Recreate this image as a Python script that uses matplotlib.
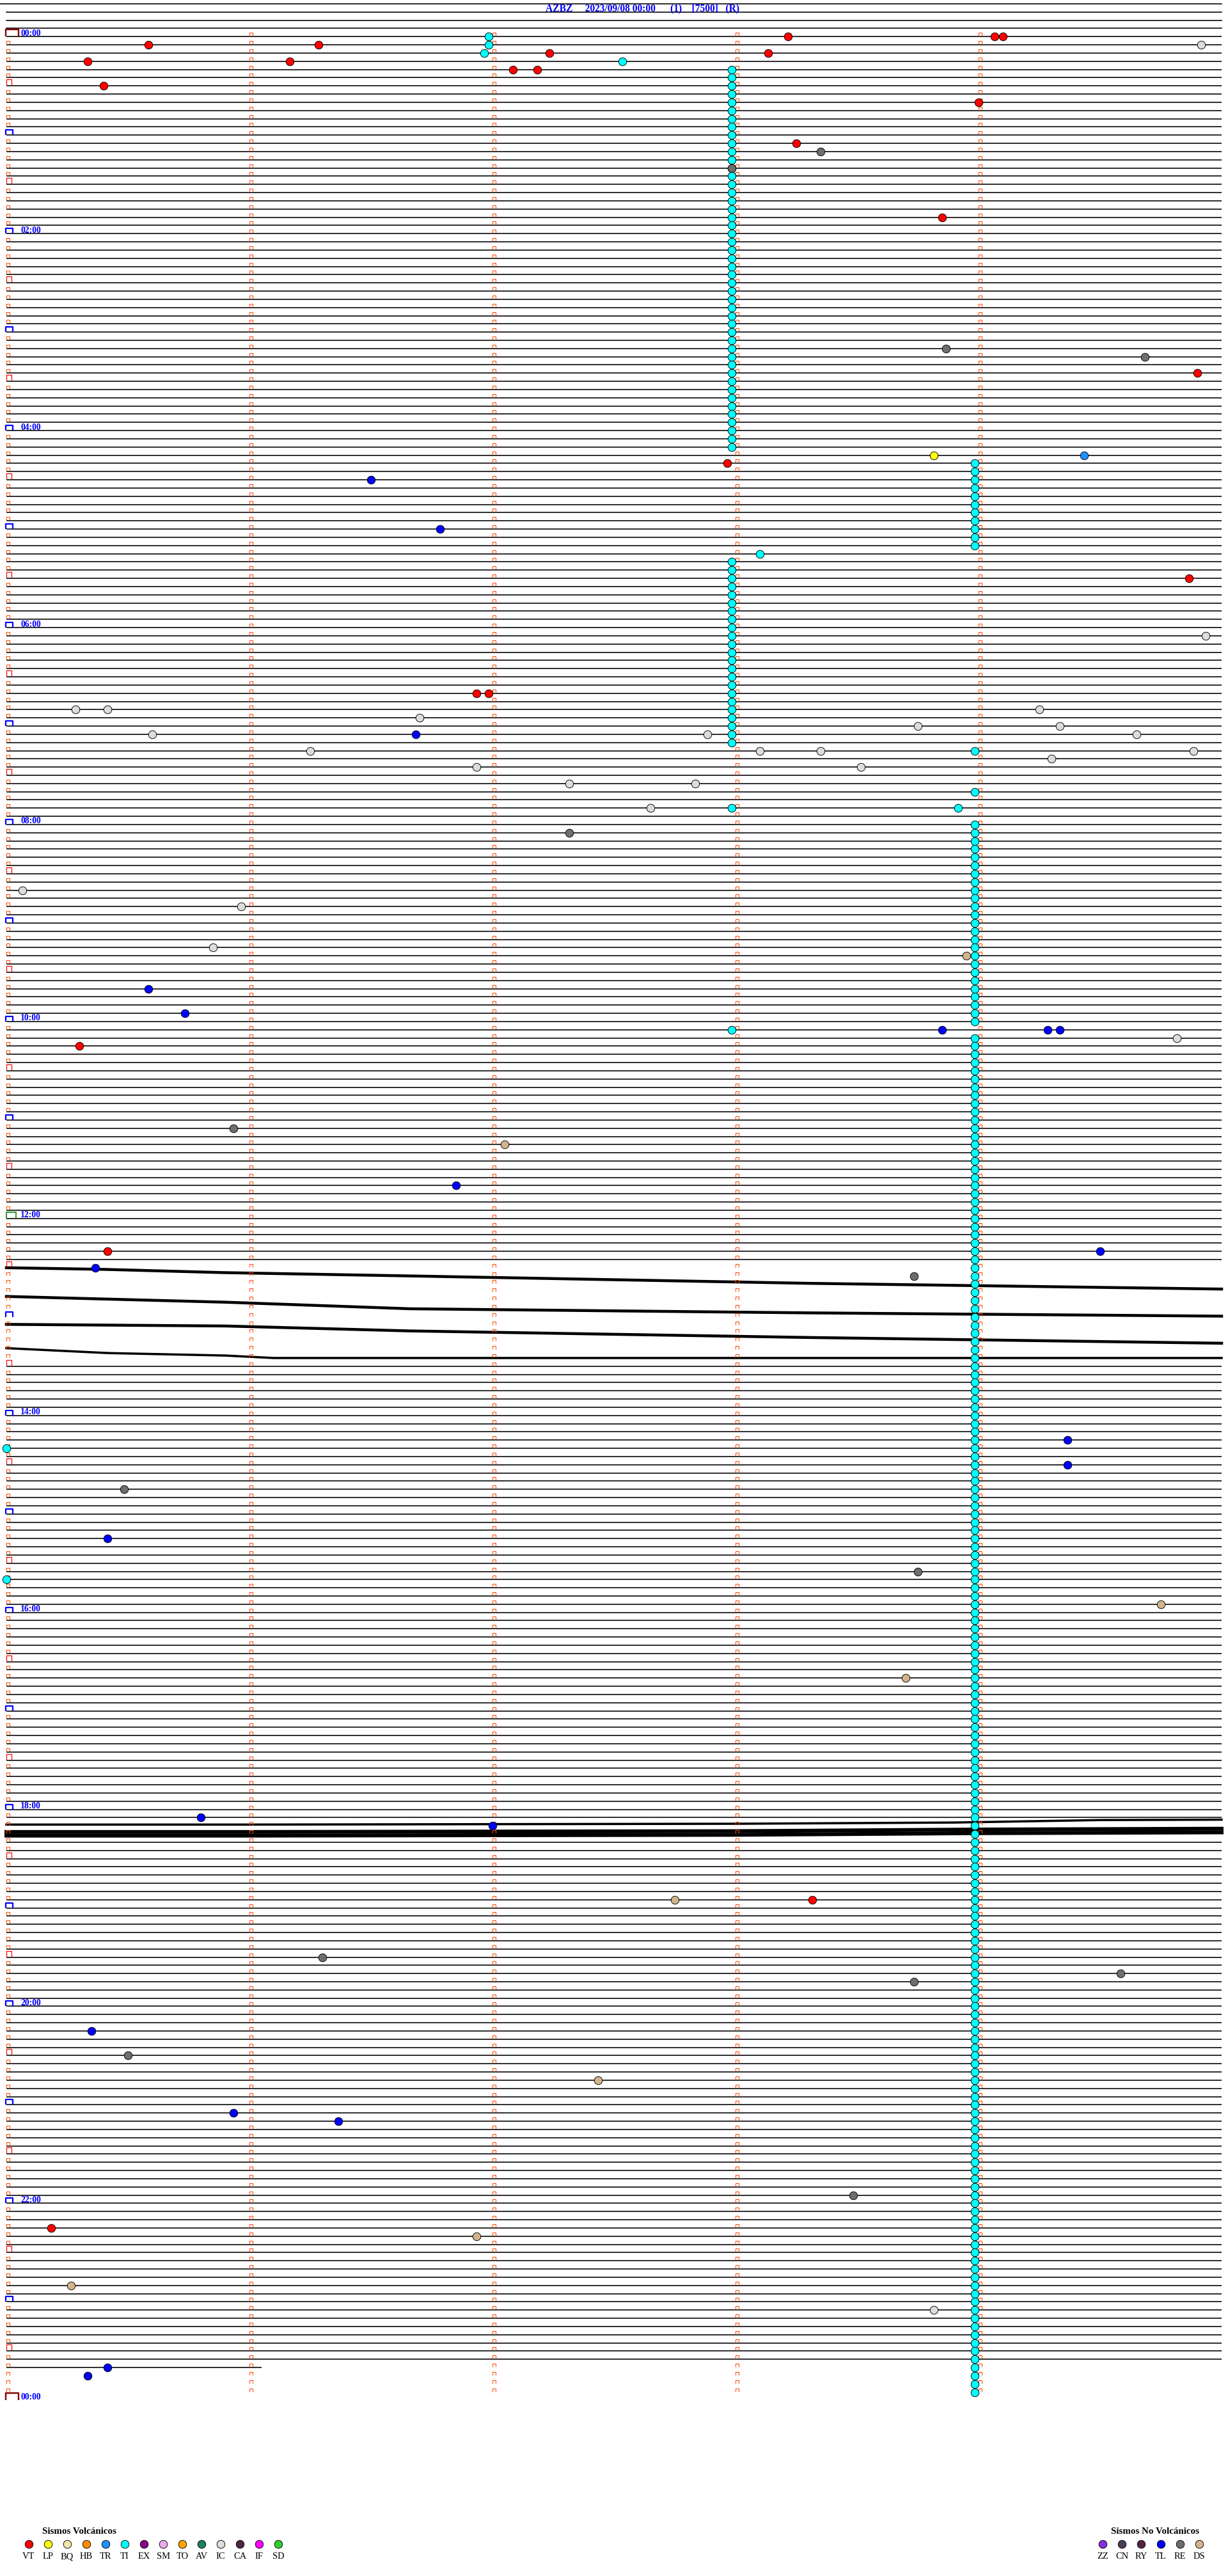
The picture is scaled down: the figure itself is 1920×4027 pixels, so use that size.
import matplotlib
matplotlib.use("Agg")
import matplotlib.pyplot as plt
from matplotlib.path import Path

# ---------------- data ----------------
STATION_TITLE = "AZBZ     2023/09/08 00:00      (1)    [7500]   (R)"
HOUR_LABELS = ["00:00", "02:00", "04:00", "06:00", "08:00", "10:00", "12:00",
               "14:00", "16:00", "18:00", "20:00", "22:00", "00:00"]
TRACE_END = "23:41:03"

VT_TIMES = ["00:03:13", "00:04:04", "00:04:06", "00:05:35", "00:06:17", "00:12:14",
            "00:13:08", "00:15:20", "00:16:10", "00:22:05", "00:22:11", "00:30:24",
            "00:44:00", "01:08:15", "01:53:51", "03:29:54", "04:22:58", "05:34:52",
            "06:41:56", "06:41:59", "10:15:18", "12:20:25", "18:58:19", "22:15:11"]
LP_TIMES = ["04:18:49"]
TR_TIMES = ["04:19:26"]
TI_TIMES = ["00:01:59", "00:06:59", "00:11:58", "00:17:32", "05:18:06", "07:18:59",
            "07:43:59", "07:52:59", "07:53:55", "10:07:59", "14:20:00", "15:40:00"]
# tremor episodes: one TI event per 5-min row, (first row, last row, second of row)
TI_RUN_START = ["00:20", "04:20", "05:20", "08:00", "10:10"]
TI_RUN_END = ["04:10", "05:10", "07:10", "10:00", "23:55"]
TI_RUN_SEC = [179, 239, 179, 239, 239]
IC_TIMES = ["00:09:55", "06:09:56", "06:50:17", "06:50:25", "06:54:15", "06:56:42",
            "07:03:45", "07:04:20", "07:05:36", "07:07:53", "07:09:39", "07:16:15",
            "07:18:06", "07:18:21", "07:19:53", "07:24:18", "07:26:56", "07:28:31",
            "07:37:19", "07:37:50", "07:52:39", "08:40:04", "08:50:58", "09:15:51",
            "10:14:49", "23:08:49"]
TL_TIMES = ["04:31:30", "05:01:47", "07:06:41", "09:40:35", "09:55:44", "10:08:51",
            "10:09:17", "10:09:20", "11:41:51", "12:24:30", "12:30:22", "14:19:22",
            "14:34:22", "15:15:25", "18:05:48", "18:12:00", "20:15:21", "21:05:56",
            "21:11:22", "23:40:25", "23:45:20"]
RE_TIMES = ["01:13:21", "01:22:59", "03:13:52", "03:19:41", "08:07:19", "11:05:56",
            "12:38:44", "14:45:29", "15:38:45", "19:31:18", "19:44:35", "19:48:44",
            "20:30:30", "21:58:29"]
DS_TIMES = ["09:23:57", "11:17:03", "15:59:45", "16:43:42", "18:57:45", "20:47:26",
            "22:21:56", "22:50:16"]

# disturbed traces (minute in row, row position)
NOISY_ROWS = [150, 153, 157, 161]
NOISY_MIN = [[0, 0.4, 0.9, 1.66, 3.3, 5.0],
             [0, 0.9, 1.66, 3.3, 5.0],
             [0, 0.9, 1.66, 3.3, 5.0],
             [0, 0.42, 0.9, 1.1, 5.0]]
NOISY_POS = [[150.0, 150.2, 150.6, 151.0, 151.9, 152.6],
             [153.5, 154.2, 155.0, 155.5, 155.9],
             [156.9, 157.1, 157.7, 158.5, 159.2],
             [159.8, 160.4, 160.7, 161.0, 161.0]]
NOISY_LW_PX = [4.5, 4.5, 4.5, 3.5]
BAND_ROWS = [218, 219, 219]
BAND_MIN = [[0, 1.0, 2.0, 3.0, 3.9, 4.5, 5.0],
            [0, 1.0, 2.0, 3.0, 4.0, 5.0],
            [0, 1.0, 2.0, 3.0, 4.0, 5.0]]
BAND_POS = [[217.85, 217.85, 217.8, 217.75, 217.6, 217.3, 217.25],
            [218.75, 218.75, 218.7, 218.65, 218.45, 218.35],
            [219.2, 219.2, 219.15, 219.1, 218.9, 218.8]]
BAND_LW_PX = [3.5, 6, 6]
MISSING_ROWS = list(range(150, 162)) + [218, 219]

VOLC_CODES = ["VT", "LP", "BQ", "HB", "TR", "TI", "EX", "SM", "TO", "AV", "IC", "CA", "IF", "SD"]
VOLC_COLORS = ["#FF0000", "#FFFF00", "#EEE8AA", "#FF8C00", "#1E90FF", "#00FFFF", "#8B008B",
               "#EEAAEE", "#FFA500", "#1F7F5F", "#DCDCDC", "#4A2A48", "#FF00FF", "#32CD32"]
NOVOLC_CODES = ["ZZ", "CN", "RY", "TL", "RE", "DS"]
NOVOLC_COLORS = ["#8A2BE2", "#4B3A5A", "#552244", "#0000FF", "#6E6E6E", "#D2B48C"]

# ---------------- layout ----------------
W, H, DPI = 1920, 4027, 100
PT = 72.0 / DPI
X0_PX, MIN_PX = 10.0, 380.0
Y0_PX, ROW_PX = 57.3, 12.83
ROW_SEC = 300
N_ROWS = 288
SERIF = ["Liberation Serif", "DejaVu Serif"]

fig = plt.figure(figsize=(W / DPI, H / DPI), dpi=DPI)
ax = fig.add_axes([0, 0, 1, 1])
ax.set_xlim(-X0_PX / MIN_PX, (W - X0_PX) / MIN_PX)
ax.set_ylim((H - Y0_PX) / ROW_PX, -Y0_PX / ROW_PX)
ax.axis("off")


def px_x(p):
    return (p - X0_PX) / MIN_PX


def px_y(p):
    return (p - Y0_PX) / ROW_PX


def to_sec(t):
    parts = [int(v) for v in t.split(":")]
    while len(parts) < 3:
        parts.append(0)
    return parts[0] * 3600 + parts[1] * 60 + parts[2]


def to_xy(t):
    s = to_sec(t)
    return (s % ROW_SEC) / 60.0, s // ROW_SEC


def bracket(w, h):
    return Path([(0, 0), (0, h), (w, h), (w, 0)],
                [Path.MOVETO, Path.LINETO, Path.LINETO, Path.LINETO])


def draw_bracket(x, y, w, h, color, lw):
    ax.plot([x], [y], marker=bracket(w, h), markersize=2 * max(w, h) * PT,
            mfc="none", mec=color, mew=lw * PT, linestyle="none", zorder=4)


LW = 1.6 * PT
# extra lines above day start
for r in range(-4, 0):
    ax.plot([px_x(0) if r == -4 else 0, 5], [r, r], color="black", lw=LW, zorder=1)

end_x, end_row = to_xy(TRACE_END)
for r in range(0, end_row + 1):
    if r in MISSING_ROWS:
        continue
    xe = 5 if r < end_row else end_x
    ax.plot([0, xe], [r, r], color="black", lw=LW, zorder=1, solid_capstyle="butt")

for rr, xs, ys, lwp in zip(NOISY_ROWS, NOISY_MIN, NOISY_POS, NOISY_LW_PX):
    ax.plot(xs, ys, color="black", lw=lwp * PT, zorder=1, solid_joinstyle="round")
for rr, xs, ys, lwp in zip(BAND_ROWS, BAND_MIN, BAND_POS, BAND_LW_PX):
    ax.plot(xs, ys, color="black", lw=lwp * PT, zorder=1)

# minute marks
lift = 1.0 / ROW_PX
for r in range(0, N_ROWS):
    for m in range(5):
        if m == 0 and r % 6 == 0:
            continue
        draw_bracket(m, r - lift, 5, 5, "#FF4500", 1.0)
for r in range(0, N_ROWS + 1, 6):
    hour = r // 12
    if r % 12 == 6:
        draw_bracket(0, r - lift, 8, 9, "#FF0000", 1.2)
    elif hour % 24 == 0:
        draw_bracket(px_x(9.3), r, 20, 11, "#800000", 2.4)
    elif hour == 12:
        draw_bracket(0, r, 15, 10, "#008000", 1.6)
    else:
        draw_bracket(px_x(9.3), r, 11, 8, "#0000FF", 2.2)
    if r % 24 == 0:
        ax.text(px_x(32), r - 0.12, HOUR_LABELS[r // 24], color="#0000FF", fontsize=13.6 * PT,
                fontweight="bold", family=SERIF, ha="left", va="baseline", zorder=5)

ax.text(px_x(1004), px_y(13), STATION_TITLE, color="#0000FF", fontsize=15.5 * PT,
        fontweight="bold", family=SERIF, ha="center", va="center", zorder=5)

# events
MS = 12.5 * PT
EDGE = 0.9 * PT


def plot_events(times, color, z=6):
    if not times:
        return
    pts = [to_xy(t) for t in times]
    ax.plot([p[0] for p in pts], [p[1] for p in pts], "o", ms=MS, mfc=color, mec="black",
            mew=EDGE, linestyle="none", zorder=z)


ti_all = list(TI_TIMES)
for a, b, sec in zip(TI_RUN_START, TI_RUN_END, TI_RUN_SEC):
    r0 = to_sec(a) // ROW_SEC
    r1 = to_sec(b) // ROW_SEC
    for r in range(r0, r1 + 1):
        s = r * ROW_SEC + sec
        ti_all.append("%02d:%02d:%02d" % (s // 3600, (s // 60) % 60, s % 60))

cmap = dict(zip(VOLC_CODES + NOVOLC_CODES, VOLC_COLORS + NOVOLC_COLORS))
plot_events(ti_all, cmap["TI"], 6)
plot_events(IC_TIMES, cmap["IC"], 7)
plot_events(VT_TIMES, cmap["VT"], 7)
plot_events(LP_TIMES, cmap["LP"], 7)
plot_events(TR_TIMES, cmap["TR"], 7)
plot_events(TL_TIMES, cmap["TL"], 7)
plot_events(RE_TIMES, cmap["RE"], 7)
plot_events(DS_TIMES, cmap["DS"], 7)

# legends
ax.text(px_x(124), px_y(3957), "Sismos Volcánicos", fontsize=15 * PT, fontweight="bold",
        family=SERIF, ha="center", va="center")
for i, (c, col) in enumerate(zip(VOLC_CODES, VOLC_COLORS)):
    x = px_x(45 + 30 * i)
    ax.plot([x], [px_y(3977)], "o", ms=MS, mfc=col, mec="black", mew=EDGE)
    ax.text(x, px_y(3997), c, fontsize=14.5 * PT, family=SERIF, ha="center", va="center")
ax.text(px_x(1806), px_y(3957), "Sismos No Volcánicos", fontsize=15 * PT, fontweight="bold",
        family=SERIF, ha="center", va="center")
for i, (c, col) in enumerate(zip(NOVOLC_CODES, NOVOLC_COLORS)):
    x = px_x(1724 + 30.2 * i)
    ax.plot([x], [px_y(3977)], "o", ms=MS, mfc=col, mec="black", mew=EDGE)
    ax.text(x, px_y(3997), c, fontsize=14.5 * PT, family=SERIF, ha="center", va="center")

fig.savefig("out.png", dpi=DPI, facecolor="white")
